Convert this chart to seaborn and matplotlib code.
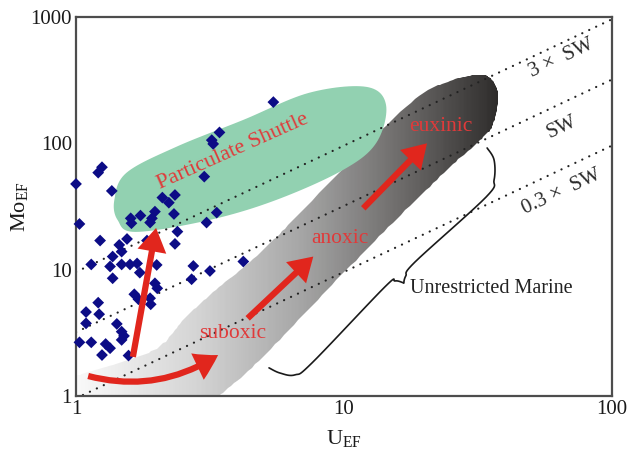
import numpy as np
import matplotlib
matplotlib.use("Agg")
import matplotlib.pyplot as plt
from matplotlib.patches import Polygon, FancyArrowPatch
from matplotlib.colors import LinearSegmentedColormap
import seaborn as sns

# sample points (U_EF, Mo_EF)
u_ef = [1.00, 1.03, 1.21, 1.25, 1.36, 2.10, 2.22, 1.60, 1.74, 1.97,
        1.92, 1.89, 1.61, 1.23, 1.55, 1.45, 1.84, 1.48, 1.14, 1.37,
        1.34, 1.48, 1.59, 1.69, 1.73, 1.37, 2.00, 1.97, 2.01, 1.65,
        1.71, 1.89, 1.90, 1.21, 1.09, 1.22, 1.09, 1.42, 1.48, 1.51,
        1.03, 1.14, 1.29, 1.34, 1.48, 1.25, 1.57, 3.43, 3.21, 3.25,
        3.01, 2.34, 2.32, 3.35, 3.07, 2.39, 2.34, 2.74, 3.16, 2.70,
        4.21, 5.45]
mo_ef = [47.7, 23.0, 58.6, 64.7, 42.0, 37.2, 33.9, 25.5, 26.8, 28.8,
         25.5, 23.6, 23.3, 17.0, 17.5, 15.7, 17.0, 13.9, 11.0, 12.7,
         10.6, 11.0, 11.0, 11.2, 9.47, 8.55, 10.9, 7.80, 7.12, 6.39,
         5.83, 5.94, 5.32, 5.48, 4.62, 4.44, 3.76, 3.72, 3.23, 2.99,
         2.66, 2.66, 2.58, 2.39, 2.78, 2.11, 2.09, 122, 106, 98.9,
         54.5, 39.0, 27.6, 28.3, 23.6, 20.0, 16.0, 10.7, 9.76, 8.40,
         11.6, 212]

# seawater Mo/U reference lines
sw_ratio = 3.2
sw_factors = [3, 1, 0.3]
sw_labels = ["3 \u00d7  SW", "SW", "0.3 \u00d7  SW"]
sw_label_u = [64.9, 64.9, 64.9]
sw_label_mo = [472, 134, 41.5]

# particulate shuttle field outline
shuttle_u = [1.39, 1.54, 2.36, 4.20, 7.40, 12.1, 14.35, 13.2, 9.91, 5.58, 3.14, 1.67, 1.43]
shuttle_mo = [35.6, 58.3, 93.6, 153, 251, 280, 201, 101, 61.5, 35.6, 24.7, 19.9, 24.7]

# unrestricted marine band outline
marine_u = [1.00, 1.45, 2.04, 2.57, 3.33, 4.99, 6.85, 17.0, 23.8, 31.6,
            35.7, 37.6, 35.9, 32.2, 24.2, 15.2, 8.64, 4.99, 3.42]
marine_mo = [1.44, 1.83, 2.44, 4.22, 6.91, 14.3, 28.1, 194, 301, 348,
             318, 233, 140, 106, 61.5, 23.4, 6.91, 2.04, 1.00]

# brace next to the marine band
brace_top_u = [34.2, 36.3, 36.3, 33.9, 18.4, 17.0, 16.7]
brace_top_mo = [91.9, 73.9, 51.3, 37.6, 11.5, 8.92, 7.85]
brace_low_u = [16.7, 15.5, 14.2, 7.60, 6.56, 5.77, 5.25]
brace_low_mo = [7.85, 8.14, 7.30, 1.83, 1.47, 1.52, 1.67]

# redox arrows: (u_tail, mo_tail, u_tip, mo_tip, curvature)
arrows = [
    (1.11, 1.44, 3.39, 2.11, 0.22),
    (1.63, 2.04, 1.99, 21.4, 0.0),
    (4.37, 4.12, 7.68, 12.7, 0.0),
    (11.8, 30.6, 20.4, 100, 0.0),
]

red_labels = ["Particulate Shuttle", "suboxic", "anoxic", "euxinic"]
red_label_u = [3.86, 3.84, 9.66, 23.0]
red_label_mo = [86, 3.14, 17.5, 135.6]
red_label_rot = [24, 0, 0, 0]
red_label_size = [16, 15.5, 15.5, 15.5]

x_ticks = [1, 10, 100]
x_tick_labels = ["1", "10", "100"]
y_ticks = [1, 10, 100, 1000]
y_tick_labels = ["1", "10", "100", "1000"]


def smooth(us, mos, closed=False, n=14):
    """Catmull-Rom through the outline points, done in log space."""
    p = np.column_stack([np.log10(us), np.log10(mos)])
    if closed:
        pts = np.vstack([p[-1], p, p[0], p[1]])
    else:
        pts = np.vstack([p[0], p, p[-1]])
    out = []
    t = np.linspace(0, 1, n, endpoint=False)[:, None]
    for i in range(1, len(pts) - 2):
        p0, p1, p2, p3 = pts[i - 1:i + 3]
        out.append(0.5 * (2 * p1 + (-p0 + p2) * t
                          + (2 * p0 - 5 * p1 + 4 * p2 - p3) * t ** 2
                          + (-p0 + 3 * p1 - 3 * p2 + p3) * t ** 3))
    out.append(pts[-2][None])
    out = np.vstack(out)
    return 10 ** out[:, 0], 10 ** out[:, 1]


sns.set_style("white")
plt.rcParams['font.family'] = ['Liberation Serif', 'DejaVu Serif']
plt.rcParams['mathtext.default'] = 'regular'

fig = plt.figure(figsize=(6.35, 4.53), dpi=100)
ax = fig.add_axes([0.1197, 0.1258, 0.8441, 0.8367])
ax.set_xscale('log')
ax.set_yscale('log')
ax.set_xlim(1, 100)
ax.set_ylim(1, 1000)

# unrestricted marine band with gradient fill
bu, bm = smooth(marine_u, marine_mo)
band = Polygon(np.column_stack([np.append(bu, 1.0), np.append(bm, 1.0)]),
               closed=True, facecolor='none', edgecolor='none',
               transform=ax.transData)
ax.add_patch(band)
grey = LinearSegmentedColormap.from_list(
    'band', [(0.0, '#f9f9f9'), (0.29, '#d3d3d3'), (0.53, '#a6a6a6'),
             (0.77, '#6d6b6a'), (1.0, '#2e2c2b')])
gx = np.logspace(0, 2, 400)
gy = np.array([1, 1000])
mesh = ax.pcolormesh(gx, gy, np.log10(gx[:-1])[None, :], cmap=grey,
                     vmin=0, vmax=1.575, shading='flat', zorder=1)
mesh.set_clip_path(band)

# particulate shuttle field
su, sm = smooth(shuttle_u, shuttle_mo, closed=True)
ax.fill(su, sm, color='#92d1b1', lw=0, zorder=1.5)

# seawater lines
xs = np.array([1, 100])
for f, lab, lu, lm in zip(sw_factors, sw_labels, sw_label_u, sw_label_mo):
    ax.plot(xs, f * sw_ratio * xs, color='#222222', lw=1.6,
            linestyle=(0, (0.05, 3.4)), dash_capstyle='round', zorder=2)
    ax.text(lu, lm, lab, rotation=25, ha='center', va='center',
            fontsize=15, color='#2a2a2a', zorder=5)

# samples
sns.scatterplot(x=u_ef, y=mo_ef, marker='D', color='#0c0c86', s=36,
                edgecolor='none', ax=ax, zorder=3, clip_on=False)

# arrows
for ut, mt, uh, mh, rad in arrows:
    arr = FancyArrowPatch((ut, mt), (uh, mh),
                          arrowstyle='simple,head_length=17,head_width=21,tail_width=4.5',
                          connectionstyle=f'arc3,rad={rad}', mutation_scale=1,
                          color='#e1261d', lw=0, shrinkA=0, shrinkB=0, zorder=4)
    ax.add_patch(arr)

for lab, lu, lm, rot, fs in zip(red_labels, red_label_u, red_label_mo,
                                red_label_rot, red_label_size):
    ax.text(lu, lm, lab, rotation=rot, ha='center', va='center',
            fontsize=fs, color='#e03a3a', zorder=5)

# brace and label
for bu_, bm_ in [(brace_top_u, brace_top_mo), (brace_low_u, brace_low_mo)]:
    cu, cm = smooth(bu_, bm_, n=10)
    ax.plot(cu, cm, color='#1a1a1a', lw=1.2, zorder=4)
ax.text(17.6, 7.12, "Unrestricted Marine", ha='left', va='center',
        fontsize=14.5, color='#222222', zorder=5)

ax.set_xticks(x_ticks, x_tick_labels)
ax.set_yticks(y_ticks, y_tick_labels)
ax.minorticks_off()
ax.tick_params(direction='in', length=4, width=1, color='#bdbdbd',
               labelsize=15, labelcolor='#1a1a1a', pad=3)
for sp in ax.spines.values():
    sp.set_color('#4d4d4d')
    sp.set_linewidth(1.6)

ax.set_xlabel('U$_{EF}$', fontsize=16, color='#1a1a1a', labelpad=6)
ax.set_ylabel('Mo$_{EF}$', fontsize=16, color='#1a1a1a', labelpad=0)

fig.savefig('out.png', dpi=100)
